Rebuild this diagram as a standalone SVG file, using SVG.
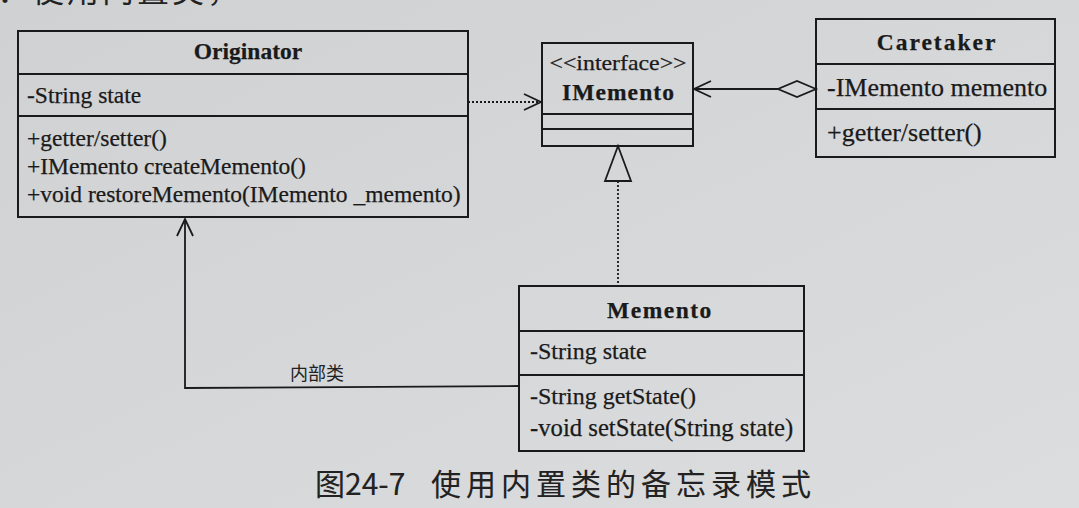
<svg xmlns="http://www.w3.org/2000/svg" width="1079" height="508" viewBox="0 0 1079 508">
  <defs>
    <linearGradient id="bg" x1="0" y1="0" x2="1" y2="1">
      <stop offset="0" stop-color="#d0d1d3"/>
      <stop offset="1" stop-color="#dcdddf"/>
    </linearGradient>
    <marker id="open" markerUnits="userSpaceOnUse" markerWidth="20" markerHeight="20" refX="17" refY="8" orient="auto" overflow="visible">
      <path d="M0,0 L17,8 L0,16" fill="none" stroke="#1a1a1a" stroke-width="1.8"/>
    </marker>
  </defs>
  <style>
    .box { fill: none; stroke: #1a1a1a; stroke-width: 2; }
    .div { stroke: #1a1a1a; stroke-width: 2; }
    .t { font-family: "Liberation Serif", "Times New Roman", serif; font-size: 23.5px; fill: #1a1a1a; stroke: #1a1a1a; stroke-width: 0.25px; }
    .b { font-weight: bold; text-anchor: middle; }
    .big { font-size: 26px; }
    .mid { font-size: 24px; }
    .mid2 { font-size: 24.7px; }
    .sm { font-size: 21px; }
    .cj { font-family: "Noto Sans CJK SC", sans-serif; fill: #222; }
    .cap { stroke: #222; stroke-width: 0.12px; }
    .line { fill: none; stroke: #1a1a1a; stroke-width: 1.8; }
    .dot { stroke-dasharray: 2 2; }
  </style>
  <rect width="1079" height="508" fill="url(#bg)"/>

  <text class="cj" x="-3" y="2" font-size="32" letter-spacing="3">：使用内置类，</text>

  <g id="Originator">
    <rect class="box" x="18" y="31" width="450" height="186"/>
    <line class="div" x1="18" y1="74" x2="468" y2="74"/>
    <line class="div" x1="18" y1="116" x2="468" y2="116"/>
    <text class="t b" x="248" y="59">Originator</text>
    <text class="t" x="27" y="103">-String state</text>
    <text class="t" x="27" y="146">+getter/setter()</text>
    <text class="t" x="27" y="174">+IMemento createMemento()</text>
    <text class="t" x="27" y="202">+void restoreMemento(IMemento _memento)</text>
  </g>

  <g id="IMemento">
    <rect class="box" x="542" y="43" width="151" height="103"/>
    <line class="div" x1="542" y1="114" x2="693" y2="114"/>
    <line class="div" x1="542" y1="129" x2="693" y2="129"/>
    <text class="t sm" x="618" y="70" text-anchor="middle" textLength="137" lengthAdjust="spacingAndGlyphs">&lt;&lt;interface&gt;&gt;</text>
    <text class="t b" x="618.5" y="100" letter-spacing="1.1">IMemento</text>
  </g>

  <g id="Caretaker">
    <rect class="box" x="816" y="19" width="239" height="138"/>
    <line class="div" x1="816" y1="64" x2="1055" y2="64"/>
    <line class="div" x1="816" y1="109" x2="1055" y2="109"/>
    <text class="t b" x="937" y="50" letter-spacing="2">Caretaker</text>
    <text class="t big" x="827" y="96">-IMemento memento</text>
    <text class="t big" x="827" y="141">+getter/setter()</text>
  </g>

  <g id="Memento">
    <rect class="box" x="519" y="286" width="285" height="165"/>
    <line class="div" x1="519" y1="331" x2="804" y2="331"/>
    <line class="div" x1="519" y1="375" x2="804" y2="375"/>
    <text class="t b" x="660" y="318" letter-spacing="1.5">Memento</text>
    <text class="t mid" x="530" y="359">-String state</text>
    <text class="t mid" x="530" y="404">-String getState()</text>
    <text class="t mid2" x="530" y="436">-void setState(String state)</text>
  </g>

  <g id="connectors">
    <path class="line dot" d="M468,102 L541,102" marker-end="url(#open)"/>
    <path class="line" d="M778,89 L694,89" marker-end="url(#open)"/>
    <polygon class="line" points="816,89 797,81 778,89 797,97"/>
    <path class="line dot" d="M618,181 L618,286"/>
    <polygon class="line" points="618,146 605,181 631,181"/>
    <path class="line" d="M519,386 L185,388 L185,219" marker-end="url(#open)"/>
    <text class="cj" x="290" y="380" font-size="18">内部类</text>
  </g>

  <text class="cj cap" x="315" y="495" font-size="30">图24-7</text>
  <text class="cj cap" x="431" y="495" font-size="30" letter-spacing="5">使用内置类的备忘录模式</text>
</svg>
